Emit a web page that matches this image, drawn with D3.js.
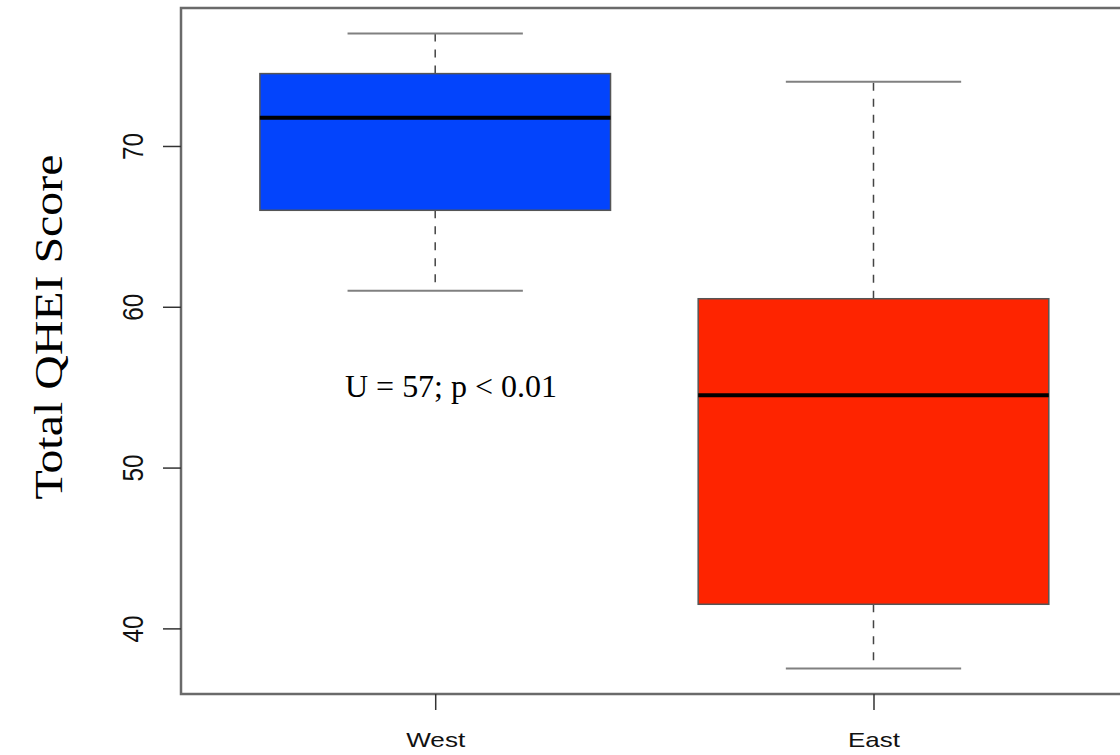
<!DOCTYPE html>
<html>
<head>
<meta charset="utf-8">
<script src="https://cdn.jsdelivr.net/npm/d3@7"></script>
<style>
  body { margin: 0; background: #fff; }
  svg { display: block; }
</style>
</head>
<body>
<svg id="chart" width="1120" height="755"></svg>
<script>
// box plot data
var groups    = ["West", "East"];
var lowWhisk  = [61, 37.5];
var q1        = [66, 41.5];
var medians   = [71.75, 54.5];
var q3        = [74.5, 60.5];
var highWhisk = [77, 74];
var fills     = ["#0344fc", "#fe2400"];
var yTicks    = [40, 50, 60, 70];
var yTitle    = "Total QHEI Score";
var note      = "U = 57; p < 0.01";

var svg = d3.select("#chart");

// R style extents: data range padded by 4%
var yLo = 37.5, yHi = 77, pad = (yHi - yLo) * 0.04;
var yScale = d3.scaleLinear().domain([yLo - pad, yHi + pad]).range([694, 8]);
var xScale = d3.scaleLinear().domain([0.42, 2.58]).range([181, 1127.7]);
var halfBox = (xScale(1.4) - xScale(1));
var halfCap = halfBox / 2;

// plot frame
svg.append("rect")
   .attr("x", xScale(0.42)).attr("y", yScale(yHi + pad))
   .attr("width", xScale(2.58) - xScale(0.42))
   .attr("height", yScale(yLo - pad) - yScale(yHi + pad))
   .attr("fill", "none").attr("stroke", "#6a6a6a").attr("stroke-width", 2.5);

// boxes
groups.forEach(function(g, i) {
   var cx = xScale(i + 1);
   // whiskers (dashed)
   svg.append("line")
      .attr("x1", cx).attr("x2", cx)
      .attr("y1", yScale(q3[i])).attr("y2", yScale(highWhisk[i]))
      .attr("stroke", "#444").attr("stroke-width", 1.5).attr("stroke-dasharray", "8,8");
   svg.append("line")
      .attr("x1", cx).attr("x2", cx)
      .attr("y1", yScale(q1[i])).attr("y2", yScale(lowWhisk[i]))
      .attr("stroke", "#444").attr("stroke-width", 1.5).attr("stroke-dasharray", "8,8");
   // staples
   [lowWhisk[i], highWhisk[i]].forEach(function(v) {
      svg.append("line")
         .attr("x1", cx - halfCap).attr("x2", cx + halfCap)
         .attr("y1", yScale(v)).attr("y2", yScale(v))
         .attr("stroke", "#808080").attr("stroke-width", 2);
   });
   // box
   svg.append("rect")
      .attr("x", cx - halfBox).attr("y", yScale(q3[i]))
      .attr("width", halfBox * 2).attr("height", yScale(q1[i]) - yScale(q3[i]))
      .attr("fill", fills[i]).attr("stroke", "#555").attr("stroke-width", 1.5);
   // median
   svg.append("line")
      .attr("x1", cx - halfBox).attr("x2", cx + halfBox)
      .attr("y1", yScale(medians[i])).attr("y2", yScale(medians[i]))
      .attr("stroke", "#000").attr("stroke-width", 4);
});

// y axis
var yAxis = svg.append("g")
   .attr("transform", "translate(181,0)")
   .call(d3.axisLeft(yScale).tickValues(yTicks).tickSize(18).tickPadding(0));
yAxis.select(".domain").remove();
yAxis.selectAll("line").attr("stroke", "#333").attr("stroke-width", 1.5);
yAxis.selectAll("text")
   .attr("x", null).attr("dy", null).attr("y", null)
   .attr("transform", "translate(-38,0) rotate(-90)")
   .attr("text-anchor", "middle")
   .attr("font-family", "Liberation Sans, Arial, sans-serif")
   .attr("font-size", 29)
   .attr("textLength", 27).attr("lengthAdjust", "spacingAndGlyphs")
   .attr("fill", "#111");

// x axis
var xAxis = svg.append("g")
   .attr("transform", "translate(0,694)")
   .call(d3.axisBottom(xScale).tickValues([1, 2]).tickSize(16).tickPadding(0)
         .tickFormat(function(d) { return groups[d - 1]; }));
xAxis.select(".domain").remove();
xAxis.selectAll("line").attr("stroke", "#333").attr("stroke-width", 1.5);
xAxis.selectAll("text")
   .attr("y", 53).attr("dy", null)
   .attr("font-family", "Liberation Sans, Arial, sans-serif")
   .attr("font-size", 21)
   .attr("textLength", function(d) { return d == 1 ? 59 : 52; })
   .attr("lengthAdjust", "spacingAndGlyphs")
   .attr("fill", "#111");

// y title
svg.append("text")
   .attr("transform", "translate(62,327) rotate(-90)")
   .attr("text-anchor", "middle")
   .attr("font-family", "Liberation Serif, Times New Roman, serif")
   .attr("font-size", 41)
   .attr("textLength", 345).attr("lengthAdjust", "spacingAndGlyphs")
   .attr("fill", "#000")
   .text(yTitle);

// test statistic note
svg.append("text")
   .attr("x", 345).attr("y", 397)
   .attr("font-family", "Liberation Serif, Times New Roman, serif")
   .attr("font-size", 31)
   .attr("textLength", 212).attr("lengthAdjust", "spacingAndGlyphs")
   .attr("fill", "#000")
   .text(note);
</script>
</body>
</html>
